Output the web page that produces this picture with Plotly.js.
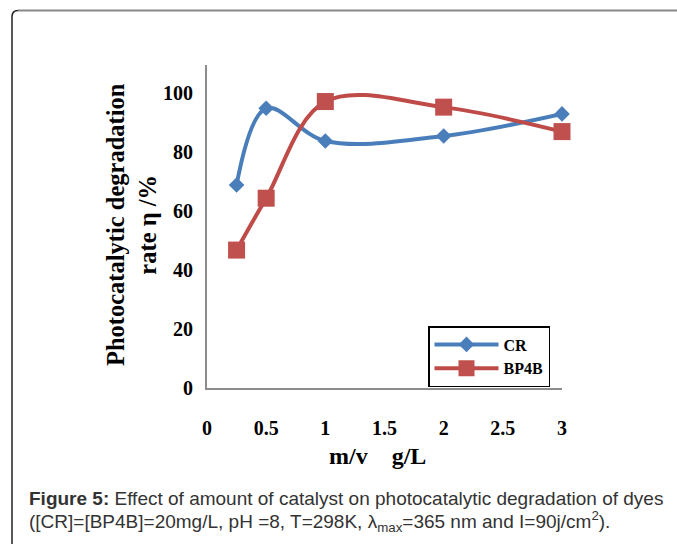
<!DOCTYPE html>
<html>
<head>
<meta charset="utf-8">
<script src="https://cdn.plot.ly/plotly-3.0.1.min.js"></script>
<style>html,body{margin:0;padding:0;background:#fff;}</style>
</head>
<body>
<div id="chart" style="width:677px;height:544px;"></div>
<script>
// Data
const dose = [0.25, 0.5, 1, 2, 3];           // m/v (g/L)
const crRate = [68.9, 94.9, 83.8, 85.5, 93.0]; // CR degradation rate (%)
const bp4bRate = [46.8, 64.4, 97.2, 95.3, 87.0]; // BP4B degradation rate (%)
const xTicks = [0, 0.5, 1, 1.5, 2, 2.5, 3];
const yTicks = [0, 20, 40, 60, 80, 100];

// pixel -> paper helpers (plot area: x 207..562, y 65..388)
const L = 207, R = 562, T = 65, B = 388;
const px = v => (v - L) / (R - L);
const py = v => (B - v) / (B - T);

const serif = 'Liberation Serif, Times New Roman, serif';
const sans = 'Liberation Sans, Arial, sans-serif';

const traces = [
  {
    x: dose, y: crRate, name: 'CR', type: 'scatter', mode: 'lines+markers',
    line: {color: '#4A7EBB', width: 4, shape: 'spline', smoothing: 1},
    marker: {symbol: 'diamond', size: 12, color: '#4A7EBB'},
    cliponaxis: false
  },
  {
    x: dose, y: bp4bRate, name: 'BP4B', type: 'scatter', mode: 'lines+markers',
    line: {color: '#BE4B48', width: 4, shape: 'spline', smoothing: 1},
    marker: {symbol: 'square', size: 17, color: '#C0504D'},
    cliponaxis: false
  }
];

const layout = {
  width: 677, height: 544,
  margin: {l: L, r: 677 - R, t: T, b: 544 - B, pad: 0},
  paper_bgcolor: '#fff', plot_bgcolor: '#fff',
  showlegend: true,
  legend: {
    x: px(428), y: py(326), xanchor: 'left', yanchor: 'top',
    bordercolor: '#000', borderwidth: 1.5, bgcolor: '#fff',
    font: {family: serif, size: 16, color: '#000', weight: 'bold'},
    tracegroupgap: 0, itemwidth: 64
  },
  xaxis: {
    range: [0, 3], tickvals: xTicks, ticktext: xTicks.map(String),
    showgrid: false, zeroline: false, showline: true, linecolor: '#8c8c8c', linewidth: 2,
    ticks: '', ticklabelstandoff: 21,
    tickfont: {family: serif, size: 20, color: '#000', weight: 'bold'}
  },
  yaxis: {
    range: [0, 109.6], tickvals: yTicks,
    showgrid: false, zeroline: false, showline: true, linecolor: '#8c8c8c', linewidth: 2,
    ticks: '', ticklabelstandoff: 8,
    tickfont: {family: serif, size: 20, color: '#000', weight: 'bold'}
  },
  annotations: [
    {
      xref: 'paper', yref: 'paper', x: px(132), y: py(225), xanchor: 'center', yanchor: 'middle',
      text: 'Photocatalytic degradation<br>rate η /%', textangle: -90, showarrow: false,
      font: {family: serif, size: 24.5, color: '#000', weight: 'bold'}
    },
    {
      xref: 'paper', yref: 'paper', x: px(377), y: py(456), xanchor: 'center', yanchor: 'middle',
      text: 'm/v    g/L', showarrow: false,
      font: {family: serif, size: 24, color: '#000', weight: 'bold'}
    },
    {
      xref: 'paper', yref: 'paper', x: px(27), y: py(498), xanchor: 'left', yanchor: 'middle',
      text: '<b>Figure 5:</b> Effect of amount of catalyst on photocatalytic degradation of dyes',
      showarrow: false, font: {family: sans, size: 19, color: '#333'}
    },
    {
      xref: 'paper', yref: 'paper', x: px(27), y: py(521), xanchor: 'left', yanchor: 'middle',
      text: '([CR]=[BP4B]=20mg/L, pH =8, T=298K, λ<sub>max</sub>=365 nm and I=90j/cm<sup>2</sup>).',
      showarrow: false, font: {family: sans, size: 19, color: '#333'}
    }
  ],
  shapes: [
    {
      type: 'path', xref: 'paper', yref: 'paper',
      path: `M ${px(12)} ${py(544)} L ${px(12)} ${py(17)} Q ${px(12)} ${py(10.5)} ${px(18)} ${py(10.5)}`,
      line: {color: '#222', width: 1.5}
    },
    {
      type: 'line', xref: 'paper', yref: 'paper',
      x0: px(18), y0: py(10.5), x1: px(677), y1: py(10.5),
      line: {color: '#888', width: 2}
    }
  ]
};

Plotly.newPlot('chart', traces, layout, {displayModeBar: false, staticPlot: true});
</script>
</body>
</html>
